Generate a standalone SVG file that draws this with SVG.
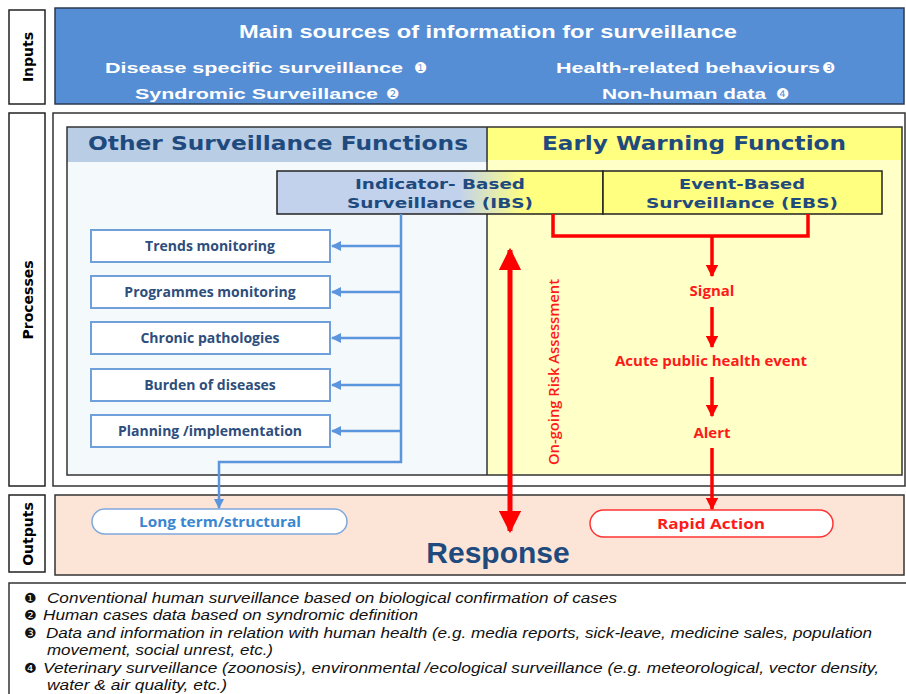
<svg xmlns="http://www.w3.org/2000/svg" width="906" height="694" viewBox="0 0 906 694">
<defs>
<style>
.lbl{fill:#fff;stroke:#222;stroke-width:1.5}
.lbltxt{font-family:"DejaVu Sans",sans-serif;font-weight:bold;font-size:14px;fill:#000}
.in{font-family:"Liberation Sans",Arial,sans-serif;font-weight:bold;fill:#fff}
.inum{font-family:"DejaVu Sans",sans-serif;font-size:15px;fill:#fff}
.hdr{font-family:"DejaVu Sans",Verdana,sans-serif;font-weight:bold;font-size:19px;fill:#1F4A7E}
.bs{font-family:"DejaVu Sans",Verdana,sans-serif;font-weight:bold;font-size:14.5px;fill:#1F4A7E}
.bx{fill:#fff;stroke:#6FA0DC;stroke-width:2}
.bxt{font-family:"Open Sans",Lato,sans-serif;font-weight:bold;font-size:14px;fill:#2E4E7C}
.red{font-family:"Open Sans",Lato,sans-serif;font-weight:bold;font-size:15px;fill:#FF1A1A}
.redn{font-family:"Open Sans",Lato,sans-serif;font-weight:600;font-size:15px;fill:#FF1A1A}
.bl{stroke:#5B95DE;stroke-width:2.5;fill:none}
.rl{stroke:#FF0000;stroke-width:3.5;fill:none}
.fn{font-family:"Liberation Sans",Arial,sans-serif;font-style:italic;font-size:14px;fill:#111}
.num{font-family:"DejaVu Sans",sans-serif;font-style:normal;font-size:14px;fill:#111}
</style>
<linearGradient id="ibsg" x1="0" y1="0" x2="1" y2="0">
<stop offset="0" stop-color="#C2D2EC"/>
<stop offset="0.56" stop-color="#C2D2EC"/>
<stop offset="0.76" stop-color="#FFFF80"/>
<stop offset="1" stop-color="#FFFF80"/>
</linearGradient>
<marker id="ab" viewBox="0 0 10 10" refX="9" refY="5" markerWidth="4" markerHeight="4" orient="auto">
<path d="M0,0 L10,5 L0,10 Z" fill="#5B95DE"/>
</marker>
<marker id="ar" viewBox="0 0 10 10" refX="9" refY="5" markerWidth="3.5" markerHeight="3.5" orient="auto">
<path d="M0,0 L10,5 L0,10 Z" fill="#FF0000"/>
</marker>
<marker id="arb" viewBox="0 0 10 10" refX="9" refY="5" markerWidth="4.5" markerHeight="4.5" orient="auto-start-reverse">
<path d="M0,0 L10,5 L0,10 Z" fill="#FF0000"/>
</marker>
</defs>
<rect width="906" height="694" fill="#fff"/>

<g id="inputs">
<rect class="lbl" x="9" y="10" width="36" height="94"/>
<text class="lbltxt" transform="translate(33,57) rotate(-90)" text-anchor="middle">Inputs</text>
<rect x="55" y="8" width="849" height="96" fill="#558ED5" stroke="#2A3A50" stroke-width="1.5"/>
<text class="in" x="488" y="38" font-size="18" text-anchor="middle" textLength="498" lengthAdjust="spacingAndGlyphs">Main sources of information for surveillance</text>
<text class="in" x="105" y="73" font-size="15" textLength="298" lengthAdjust="spacingAndGlyphs">Disease specific surveillance</text><text class="inum" x="414" y="73">❶</text>
<text class="in" x="135" y="99" font-size="15" textLength="243" lengthAdjust="spacingAndGlyphs">Syndromic Surveillance</text><text class="inum" x="386" y="99">❷</text>
<text class="in" x="556" y="73" font-size="15" textLength="264" lengthAdjust="spacingAndGlyphs">Health-related behaviours</text><text class="inum" x="822" y="73">❸</text>
<text class="in" x="602" y="99" font-size="15" textLength="164" lengthAdjust="spacingAndGlyphs">Non-human data</text><text class="inum" x="776" y="99">❹</text>
</g>

<g id="processes">
<rect class="lbl" x="9" y="113" width="36" height="373"/>
<text class="lbltxt" transform="translate(33,300) rotate(-90)" text-anchor="middle">Processes</text>
<rect x="53" y="113" width="852" height="373" fill="#fff" stroke="#333" stroke-width="1.5"/>
<rect x="67" y="127" width="421" height="348" fill="#F4F9FB"/>
<rect x="488" y="127" width="414" height="348" fill="#FFFFC8"/>
<rect x="67" y="127" width="421" height="35" fill="#B9CDE5"/>
<rect x="488" y="127" width="414" height="33" fill="#FFFF80"/>
<rect x="67" y="127" width="835" height="348" fill="none" stroke="#333" stroke-width="1.5"/>
<line x1="487" y1="127" x2="487" y2="475" stroke="#333" stroke-width="1.5"/>
<text class="hdr" x="88" y="150" textLength="380" lengthAdjust="spacingAndGlyphs">Other Surveillance Functions</text>
<text class="hdr" x="542" y="150" textLength="304" lengthAdjust="spacingAndGlyphs">Early Warning Function</text>
</g>

<g id="ibs">
<rect x="277" y="171" width="326" height="43" fill="url(#ibsg)" stroke="#222" stroke-width="1.5"/>
<text class="bs" x="440" y="189" text-anchor="middle" textLength="170" lengthAdjust="spacingAndGlyphs">Indicator- Based</text>
<text class="bs" x="440" y="208" text-anchor="middle" textLength="186" lengthAdjust="spacingAndGlyphs">Surveillance (IBS)</text>
</g>
<g id="ebs">
<rect x="603" y="171" width="279" height="43" fill="#FFFF80" stroke="#222" stroke-width="1.5"/>
<text class="bs" x="742" y="189" text-anchor="middle" textLength="126" lengthAdjust="spacingAndGlyphs">Event-Based</text>
<text class="bs" x="742" y="208" text-anchor="middle" textLength="192" lengthAdjust="spacingAndGlyphs">Surveillance (EBS)</text>
</g>

<g id="trends"><rect class="bx" x="91" y="230" width="239" height="32"/><text class="bxt" x="210" y="251" text-anchor="middle">Trends monitoring</text></g>
<g id="programmes"><rect class="bx" x="91" y="276" width="239" height="32"/><text class="bxt" x="210" y="297" text-anchor="middle">Programmes monitoring</text></g>
<g id="chronic"><rect class="bx" x="91" y="322" width="239" height="32"/><text class="bxt" x="210" y="343" text-anchor="middle">Chronic pathologies</text></g>
<g id="burden"><rect class="bx" x="91" y="369" width="239" height="32"/><text class="bxt" x="210" y="390" text-anchor="middle">Burden of diseases</text></g>
<g id="planning"><rect class="bx" x="91" y="415" width="239" height="32"/><text class="bxt" x="210" y="436" text-anchor="middle">Planning /implementation</text></g>

<g id="signal"><text class="red" x="712" y="296" text-anchor="middle">Signal</text></g>
<g id="acute"><text class="red" x="711" y="366" text-anchor="middle">Acute public health event</text></g>
<g id="alert"><text class="red" x="712" y="438" text-anchor="middle">Alert</text></g>
<g id="risk"><text class="redn" transform="translate(559,372) rotate(-90)" text-anchor="middle" textLength="186" lengthAdjust="spacingAndGlyphs">On-going Risk Assessment</text></g>

<g id="outputs">
<rect class="lbl" x="9" y="495" width="36" height="77"/>
<text class="lbltxt" transform="translate(33,534) rotate(-90)" text-anchor="middle">Outputs</text>
<rect x="55" y="495" width="849" height="80" fill="#FCE5D7" stroke="#333" stroke-width="1.5"/>
<text x="498" y="563" text-anchor="middle" font-family="Liberation Sans,Arial,sans-serif" font-weight="bold" font-size="30" fill="#1F4A7E">Response</text>
</g>
<g id="longterm"><rect x="92" y="509" width="255" height="25" rx="12.5" fill="#fff" stroke="#7FA8DC" stroke-width="1.5"/><text x="220" y="527" text-anchor="middle" font-family="Open Sans,Lato,sans-serif" font-weight="bold" font-size="14" fill="#3A86D0" textLength="162" lengthAdjust="spacingAndGlyphs">Long term/structural</text></g>
<g id="rapid"><rect x="590" y="510" width="243" height="27" rx="13.5" fill="#fff" stroke="#FF3333" stroke-width="1.5"/><text x="711" y="529" text-anchor="middle" font-family="Open Sans,Lato,sans-serif" font-weight="bold" font-size="15" fill="#FF1A1A" textLength="108" lengthAdjust="spacingAndGlyphs">Rapid Action</text></g>

<g id="connectors">
<path class="bl" d="M401,214 V462 H219 V508" marker-end="url(#ab)"/>
<line class="bl" x1="401" y1="246" x2="332" y2="246" marker-end="url(#ab)"/>
<line class="bl" x1="401" y1="292" x2="332" y2="292" marker-end="url(#ab)"/>
<line class="bl" x1="401" y1="338" x2="332" y2="338" marker-end="url(#ab)"/>
<line class="bl" x1="401" y1="385" x2="332" y2="385" marker-end="url(#ab)"/>
<line class="bl" x1="401" y1="431" x2="332" y2="431" marker-end="url(#ab)"/>
<path class="rl" d="M553,214 V236 H808 V214"/>
<line class="rl" x1="712" y1="236" x2="712" y2="276" marker-end="url(#ar)"/>
<line class="rl" x1="712" y1="307" x2="712" y2="347" marker-end="url(#ar)"/>
<line class="rl" x1="712" y1="377" x2="712" y2="416" marker-end="url(#ar)"/>
<line class="rl" x1="712" y1="448" x2="712" y2="509" marker-end="url(#ar)"/>
<line x1="510" y1="250" x2="510" y2="531" stroke="#FF0000" stroke-width="5" marker-start="url(#arb)" marker-end="url(#arb)"/>
</g>

<g id="footnotes">
<rect x="9" y="583" width="900" height="115" fill="#fff" stroke="#333" stroke-width="1.5"/>
<text class="num" x="24" y="603">❶</text><text class="fn" x="47" y="603" textLength="570" lengthAdjust="spacingAndGlyphs">Conventional human surveillance based on biological confirmation of cases</text>
<text class="num" x="24" y="620">❷</text><text class="fn" x="43" y="620" textLength="375" lengthAdjust="spacingAndGlyphs">Human cases data based on syndromic definition</text>
<text class="num" x="24" y="638">❸</text><text class="fn" x="46" y="638" textLength="826" lengthAdjust="spacingAndGlyphs">Data and information in relation with human health (e.g. media reports, sick-leave, medicine sales, population</text>
<text class="fn" x="47" y="655" textLength="226" lengthAdjust="spacingAndGlyphs">movement, social unrest, etc.)</text>
<text class="num" x="24" y="673">❹</text><text class="fn" x="43" y="673" textLength="836" lengthAdjust="spacingAndGlyphs">Veterinary surveillance (zoonosis), environmental /ecological surveillance (e.g. meteorological,  vector density,</text>
<text class="fn" x="47" y="690" textLength="180" lengthAdjust="spacingAndGlyphs">water &amp; air quality, etc.)</text>
</g>
</svg>
